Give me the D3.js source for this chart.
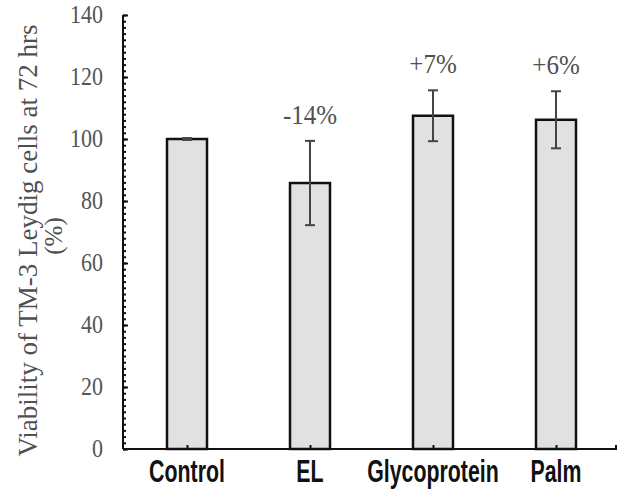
<!DOCTYPE html>
<html>
<head>
<meta charset="utf-8">
<script src="https://cdn.jsdelivr.net/npm/d3@7"></script>
<style>
  html, body { margin: 0; padding: 0; background: #fff; }
  svg { display: block; }
</style>
</head>
<body>
<svg id="chart" width="620" height="492"></svg>
<script>
const categories = ["Control", "EL", "Glycoprotein", "Palm"];
const means = [100, 85.8, 107.5, 106.2];
const errors = [0.3, 13.6, 8.2, 9.2];
const annotations = ["", "-14%", "+7%", "+6%"];
const yTicks = [0, 20, 40, 60, 80, 100, 120, 140];
const yTitle = ["Viability of TM-3 Leydig cells at 72 hrs", "(%)"];

const svg = d3.select("#chart");
const axisX0 = 123, axisX1 = 617;

const y = d3.scaleLinear().domain([0, 140]).range([449, 15]);
const x = d3.scalePoint().domain(categories).range([187, 556]);
const barW = 40;

const data = categories.map((c, i) => ({ c, m: means[i], e: errors[i], a: annotations[i] }));

// bars
svg.append("g").selectAll("rect").data(data).join("rect")
  .attr("x", d => x(d.c) - barW / 2)
  .attr("width", barW)
  .attr("y", d => y(d.m))
  .attr("height", d => y(0) - y(d.m))
  .attr("fill", "#e1e1e1")
  .attr("stroke", "#111")
  .attr("stroke-width", 2.5);

// error bars
const eb = svg.append("g").attr("stroke", "#444").attr("stroke-width", 2);
data.forEach(d => {
  const cx = x(d.c);
  eb.append("line").attr("x1", cx).attr("x2", cx).attr("y1", y(d.m + d.e)).attr("y2", y(d.m - d.e));
  eb.append("line").attr("x1", cx - 5).attr("x2", cx + 5).attr("y1", y(d.m + d.e)).attr("y2", y(d.m + d.e));
  eb.append("line").attr("x1", cx - 5).attr("x2", cx + 5).attr("y1", y(d.m - d.e)).attr("y2", y(d.m - d.e));
});

// annotations
svg.append("g").selectAll("text").data(data.filter(d => d.a)).join("text")
  .attr("transform", d => `translate(${x(d.c)},${y(d.m + d.e) - 17}) scale(1,1.1)`)
  .attr("text-anchor", "middle")
  .attr("font-family", "'Liberation Serif', 'Times New Roman', serif")
  .attr("font-size", 25)
  .attr("fill", "#505050")
  .text(d => d.a);

// y axis (ticks pointing inward)
const yMajor = d3.axisRight(y).tickValues(yTicks).tickSize(5).tickFormat("");
const yMinor = d3.axisRight(y).tickValues(d3.range(0, 141, 2)).tickSize(3).tickFormat("");
const gYm = svg.append("g").attr("transform", `translate(${axisX0},0)`).call(yMinor);
const gY = svg.append("g").attr("transform", `translate(${axisX0},0)`).call(yMajor);
[gYm, gY].forEach(g => {
  g.select(".domain").remove();
  g.selectAll(".tick line").attr("stroke", "#111").attr("stroke-width", 2);
});
svg.append("line").attr("x1", axisX0).attr("x2", axisX0).attr("y1", y(140)).attr("y2", y(0))
  .attr("stroke", "#111").attr("stroke-width", 2);

// y tick labels
svg.append("g").selectAll("text").data(yTicks).join("text")
  .attr("transform", d => `translate(103,${y(d)}) scale(1,1.1)`)
  .attr("dy", "0.35em")
  .attr("text-anchor", "end")
  .attr("font-family", "'Liberation Serif', 'Times New Roman', serif")
  .attr("font-size", 22)
  .attr("fill", "#555")
  .text(d => d);

// x axis
const gX = svg.append("g").attr("transform", `translate(0,${y(0)})`)
  .call(d3.axisTop(x).tickSize(4).tickFormat(""));
gX.select(".domain").remove();
gX.selectAll(".tick line").attr("stroke", "#111").attr("stroke-width", 2);
svg.append("line").attr("x1", axisX0).attr("x2", axisX1).attr("y1", y(0)).attr("y2", y(0))
  .attr("stroke", "#111").attr("stroke-width", 2);
svg.append("line").attr("x1", axisX1 - 1).attr("x2", axisX1 - 1).attr("y1", y(0)).attr("y2", y(0) - 4)
  .attr("stroke", "#111").attr("stroke-width", 2);

// x labels (condensed bold sans)
svg.append("g").selectAll("text").data(categories).join("text")
  .attr("transform", d => `translate(${x(d)},482) scale(0.82,1.2)`)
  .attr("text-anchor", "middle")
  .attr("font-family", "'Liberation Sans', Arial, sans-serif")
  .attr("font-weight", "bold")
  .attr("font-size", 26)
  .attr("fill", "#111")
  .text(d => d);

// y title
const gt = svg.append("g").attr("font-family", "'Liberation Serif', 'Times New Roman', serif")
  .attr("fill", "#505050");
gt.append("text").attr("transform", "translate(37,240.5) rotate(-90)")
  .attr("text-anchor", "middle").attr("font-size", 27).text(yTitle[0]);
gt.append("text").attr("transform", "translate(62,236) rotate(-90)")
  .attr("text-anchor", "middle").attr("font-size", 25).text(yTitle[1]);
</script>
</body>
</html>
